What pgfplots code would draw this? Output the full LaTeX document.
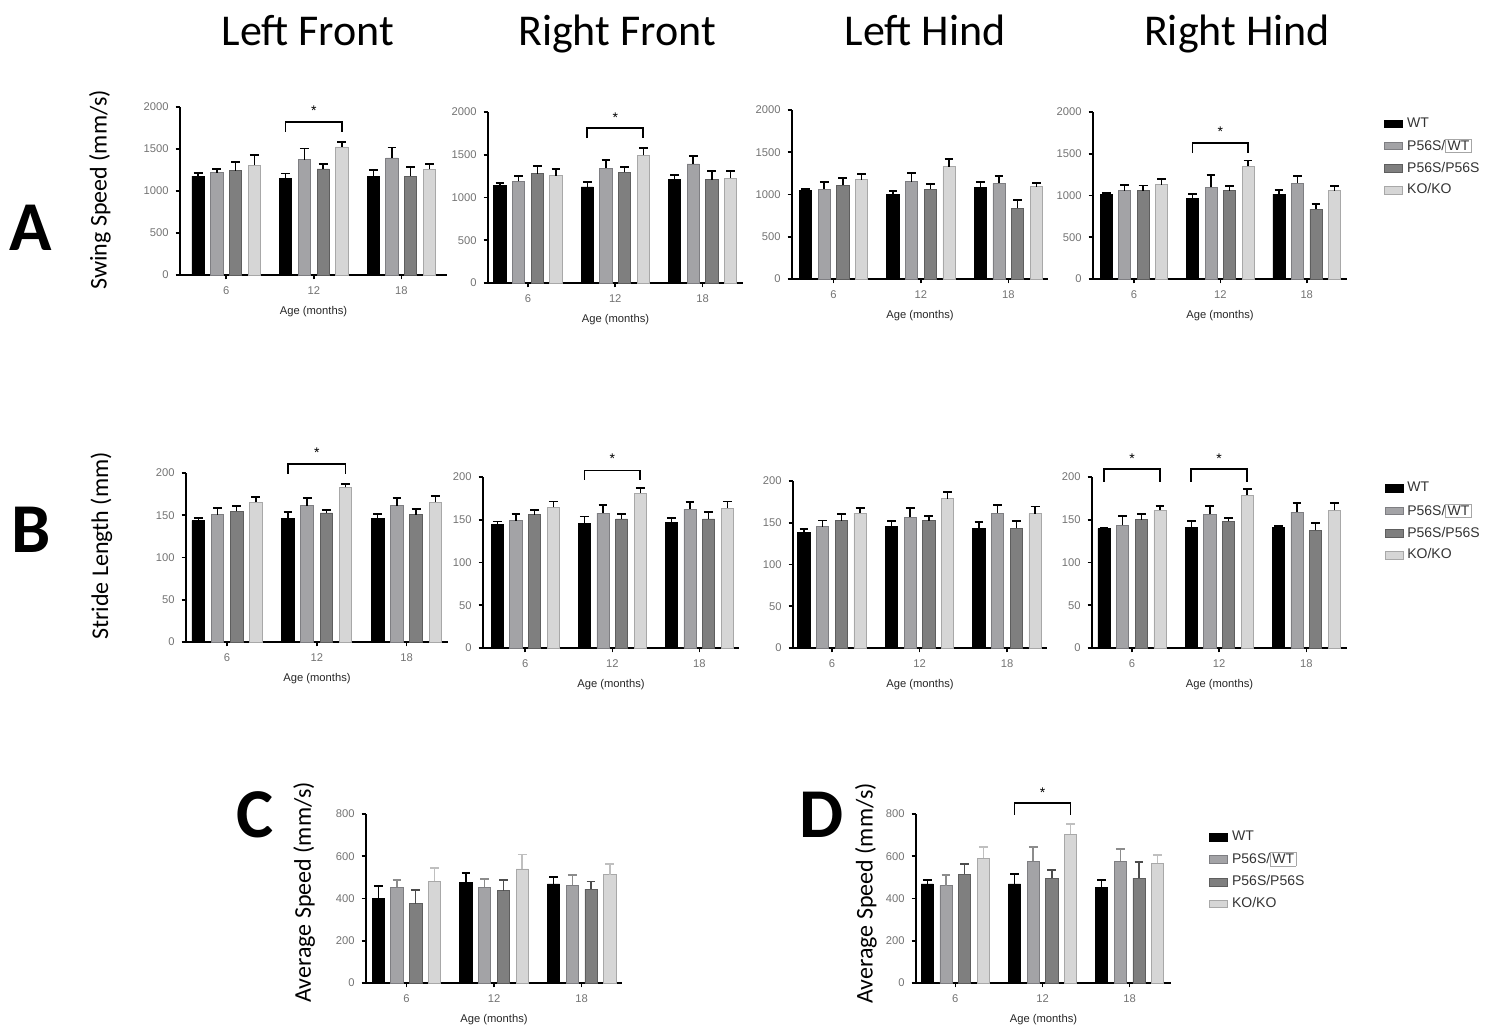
\documentclass[border=0pt]{standalone}
\usepackage{pgfplots}
\pgfplotsset{compat=1.18}
\usepackage{pgfplotstable}
\usepackage{fontspec}
\setmainfont{Liberation Sans}
\newfontfamily\calfont{Carlito}

\definecolor{cpw}{HTML}{A3A3A6}
\definecolor{cpp}{HTML}{7F7F7F}
\definecolor{cko}{HTML}{D6D6D6}
\definecolor{epw}{HTML}{7E7E82}
\definecolor{epp}{HTML}{5E5E5E}
\definecolor{eko}{HTML}{A8A8A8}

\newcommand\tickfont{\fontsize{5.6}{6.5}\selectfont}
\newcommand\labfont{\fontsize{5.6}{6.5}\selectfont}
\newcommand\legfont{\fontsize{7}{8}\selectfont}

% columns: x wt wte pw pwe pp ppe ko koe  (value, plus-error)
\pgfplotstableread{
x wt wte pw pwe pp ppe ko koe
0 1176 40 1220 39 1240 107 1307 119
1 1148 60 1374 131 1263 56 1525 59
2 1176 72 1394 123 1176 111 1259 60
}\tA
\pgfplotstableread{
x wt wte pw pwe pp ppe ko koe
0 1142 28 1189 66 1279 86 1255 82
1 1123 58 1345 97 1294 67 1493 86
2 1209 50 1392 97 1209 97 1228 78
}\tB
\pgfplotstableread{
x wt wte pw pwe pp ppe ko koe
0 1045 16 1065 79 1112 79 1176 63
1 1002 39 1152 98 1065 59 1329 87
2 1085 59 1132 87 836 95 1093 39
}\tC
\pgfplotstableread{
x wt wte pw pwe pp ppe ko koe
0 1016 12 1056 72 1056 64 1128 68
1 968 48 1096 152 1056 60 1348 72
2 1016 52 1148 88 836 60 1056 60
}\tD
\pgfplotstableread{
x wt wte pw pwe pp ppe ko koe
0 143.6 3.4 150.7 8.3 154.6 6 165.7 5.5
1 146 7.5 161.3 9.1 152.7 3.9 183 4.4
2 146 5.5 161.3 9.1 150.7 7.1 165.7 7.5
}\tE
\pgfplotstableread{
x wt wte pw pwe pp ppe ko koe
0 144 4 149 8 155.8 5.8 164.4 7
1 146 7.8 157.7 9.8 151 6 181.2 5.9
2 146.8 5.1 162.4 8.2 151 7.9 163.6 7.8
}\tF
\pgfplotstableread{
x wt wte pw pwe pp ppe ko koe
0 138.7 3.6 145.5 7.2 152.3 8.4 161.5 6
1 145.5 6.8 156.7 10.8 152.3 6 178.8 8
2 143.5 7.2 161.5 10 143.5 8.8 160.7 8.8
}\tG
\pgfplotstableread{
x wt wte pw pwe pp ppe ko koe
0 139.6 1.1 143.5 10.5 150.1 6.2 161 5
1 140.7 7.4 156.3 9.7 148.1 4.3 178.6 7.8
2 141.5 1.2 159 10.6 137.6 8.6 161 9
}\tH
\pgfplotstableread{
x wt wte pw pwe pp ppe ko koe
0 399 59 453 36 376 66 481 63
1 478 43 453 41 437 52 540 68
2 469 33 462 51 445 36 513 52
}\tI
\pgfplotstableread{
x wt wte pw pwe pp ppe ko koe
0 469 19 461 51 515 49 591 52
1 469 47 577 66 496 39 705 49
2 451 37 577 57 496 76 567 40
}\tJ

\pgfplotsset{
  panel/.style={
    scale only axis, ybar, bar width=0.14, ymin=0,
    axis x line*=bottom, axis y line*=left,
    axis line style={line width=0.9pt, black},
    every tick/.style={black, line width=0.8pt},
    tick align=outside, major tick length=2.2pt,
    xtick={0,1,2}, xticklabels={6,12,18},
    tick label style={font=\tickfont, text=black!55},
    /pgf/number format/assume math mode=true,
    /pgf/number format/1000 sep={},
    xlabel={Age (months)},
    xlabel style={font=\labfont, text=black!85, yshift=1pt},
    ylabel style={font=\calfont\fontsize{12}{13}\selectfont, anchor=center},
    clip=false,
    legend image code/.code={\draw[#1] (0pt,-1.9pt) rectangle (9pt,1.9pt);},
    legend style={draw=none, fill=none, font=\legfont, text=black!80,
      row sep=0.3pt, anchor=north west, legend cell align=left},
  },
  swing/.style={ymax=2000, ytick={0,500,1000,1500,2000}},
  stride/.style={ymax=200, ytick={0,50,100,150,200}},
  avg/.style={ymax=800, ytick={0,200,400,600,800}},
}

% #1 table, #2..#5 error bar colours
\newcommand\fourbars[5]{%
  \addplot[fill=black, draw=black, bar shift=-0.321,
    error bars/.cd, y dir=plus, y explicit, error mark=|,
    error bar style={line width=0.7pt,#2},
    error mark options={line width=0.9pt, mark size=2.2pt, #2}]
    table[x=x, y=wt, y error=wte] {#1};
  \addplot[fill=cpw, draw=epw, bar shift=-0.107,
    error bars/.cd, y dir=plus, y explicit, error mark=|,
    error bar style={line width=0.7pt,#3},
    error mark options={line width=0.9pt, mark size=2.2pt, #3}]
    table[x=x, y=pw, y error=pwe] {#1};
  \addplot[fill=cpp, draw=epp, bar shift=0.107,
    error bars/.cd, y dir=plus, y explicit, error mark=|,
    error bar style={line width=0.7pt,#4},
    error mark options={line width=0.9pt, mark size=2.2pt, #4}]
    table[x=x, y=pp, y error=ppe] {#1};
  \addplot[fill=cko, draw=eko, bar shift=0.321,
    error bars/.cd, y dir=plus, y explicit, error mark=|,
    error bar style={line width=0.7pt,#5},
    error mark options={line width=0.9pt, mark size=2.2pt, #5}]
    table[x=x, y=ko, y error=koe] {#1};
}
\newcommand\legentries{%
  \addlegendentry{WT}
  \addlegendentry{P56S/{\setlength\fboxsep{0.8pt}\setlength\fboxrule{0.3pt}\fcolorbox{black!35}{white}{WT}}}
  \addlegendentry{P56S/P56S}
  \addlegendentry{KO/KO}
}
% #1 group x, #2 low, #3 high, #4 star y
\newcommand\sig[4]{%
  \draw[line width=0.8pt, black] (axis cs:#1-0.321,#2) -- (axis cs:#1-0.321,#3)
    -- (axis cs:#1+0.321,#3) -- (axis cs:#1+0.321,#2);
  \node[font=\fontsize{7}{8}\selectfont, inner sep=0pt] at (axis cs:#1,#4) {*};
}

\begin{document}
\begin{tikzpicture}
\useasboundingbox (0pt,0pt) rectangle (743.5pt,-512.5pt);

% titles and panel letters
\node[font=\calfont\fontsize{22}{24}\selectfont, anchor=base] at (154pt,-22.5pt) {Left Front};
\node[font=\calfont\fontsize{22}{24}\selectfont, anchor=base] at (308.5pt,-22.5pt) {Right Front};
\node[font=\calfont\fontsize{22}{24}\selectfont, anchor=base] at (462.5pt,-22.5pt) {Left Hind};
\node[font=\calfont\fontsize{22}{24}\selectfont, anchor=base] at (618.5pt,-22.5pt) {Right Hind};
\node[font=\calfont\bfseries\fontsize{35}{36}\selectfont] at (15.5pt,-114pt) {A};
\node[font=\calfont\bfseries\fontsize{35}{36}\selectfont] at (15.5pt,-265pt) {B};
\node[font=\calfont\bfseries\fontsize{35}{36}\selectfont] at (127.5pt,-407.5pt) {C};
\node[font=\calfont\bfseries\fontsize{35}{36}\selectfont] at (411pt,-407.5pt) {D};

% ---- Row A: swing speed
\begin{axis}[panel, swing, at={(90pt,-137.5pt)}, anchor=south west,
  width=133.5pt, height=84pt, xmin=-0.528, xmax=2.522,
  ylabel={Swing Speed (mm/s)},
  ylabel style={at={(axis description cs:-0.30,0.506)}}]
\fourbars{\tA}{black}{black}{black}{black}
\sig{1}{1703}{1822}{1960}
\end{axis}
\begin{axis}[panel, swing, at={(244pt,-141.5pt)}, anchor=south west,
  width=127.5pt, height=85.5pt, xmin=-0.458, xmax=2.464]
\fourbars{\tB}{black}{black}{black}{black}
\sig{1}{1696}{1813}{1938}
\end{axis}
\begin{axis}[panel, swing, at={(396pt,-139.5pt)}, anchor=south west,
  width=128pt, height=84.5pt, xmin=-0.475, xmax=2.453]
\fourbars{\tC}{black}{black}{black}{black}
\end{axis}
\begin{axis}[panel, swing, at={(546.5pt,-139.5pt)}, anchor=south west,
  width=127pt, height=83.5pt, xmin=-0.473, xmax=2.466,
  legend style={at={(1.122,1.018)}}]
\fourbars{\tD}{black}{black}{black}{black}
\legentries
\sig{1}{1508}{1628}{1768}
\end{axis}

% ---- Row B: stride length
\begin{axis}[panel, stride, at={(93pt,-321pt)}, anchor=south west,
  width=131pt, height=84.5pt, xmin=-0.457, xmax=2.462,
  ylabel={Stride Length (mm)},
  ylabel style={at={(axis description cs:-0.323,0.568)}}]
\fourbars{\tE}{black}{black}{black}{black}
\sig{1}{199}{211}{223.7}
\end{axis}
\begin{axis}[panel, stride, at={(241.5pt,-324pt)}, anchor=south west,
  width=128pt, height=85.5pt, xmin=-0.486, xmax=2.456]
\fourbars{\tF}{black}{black}{black}{black}
\sig{1}{196.9}{207.8}{222}
\end{axis}
\begin{axis}[panel, stride, at={(396.5pt,-324pt)}, anchor=south west,
  width=127pt, height=83.5pt, xmin=-0.446, xmax=2.457]
\fourbars{\tG}{black}{black}{black}{black}
\end{axis}
\begin{axis}[panel, stride, at={(546pt,-324pt)}, anchor=south west,
  width=127.5pt, height=85.5pt, xmin=-0.459, xmax=2.466,
  legend style={at={(1.122,1.018)}}]
\fourbars{\tH}{black}{black}{black}{black}
\legentries
\sig{0}{194.2}{209.7}{221.4}
\sig{1}{194.2}{209.7}{221.4}
\end{axis}

% ---- Row C/D: average speed
\begin{axis}[panel, avg, at={(183pt,-491.5pt)}, anchor=south west,
  width=128pt, height=84.5pt, xmin=-0.461, xmax=2.46,
  ylabel={Average Speed (mm/s)},
  ylabel style={at={(axis description cs:-0.242,0.536)}}]
\fourbars{\tI}{black}{black!45}{black!70}{black!25}
\end{axis}
\begin{axis}[panel, avg, at={(458pt,-491.5pt)}, anchor=south west,
  width=127.5pt, height=84.5pt, xmin=-0.451, xmax=2.474,
  ylabel={Average Speed (mm/s)},
  ylabel style={at={(axis description cs:-0.196,0.53)}},
  legend style={at={(1.125,0.95)}}]
\fourbars{\tJ}{black}{black!45}{black!70}{black!25}
\legentries
\sig{1}{797}{852}{900}
\end{axis}
\end{tikzpicture}
\end{document}
